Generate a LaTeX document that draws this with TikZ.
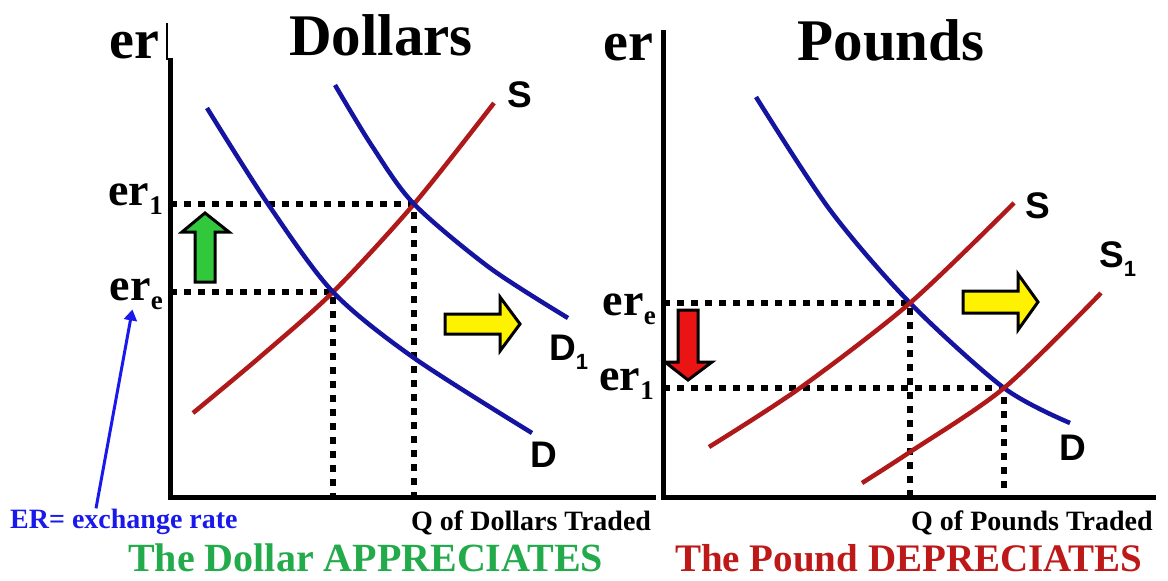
\documentclass[tikz,border=0pt]{standalone}
\usepackage{fontspec}
\setmainfont{Liberation Serif}
\newfontfamily\curvefont{Liberation Sans}
\usetikzlibrary{positioning, arrows.meta, calc}

\definecolor{demandblue}{RGB}{20,20,160}
\definecolor{supplyred}{RGB}{175,25,25}
\definecolor{erblue}{RGB}{25,25,235}
\definecolor{upgreen}{RGB}{50,200,60}
\definecolor{apprgreen}{RGB}{35,170,75}
\definecolor{deprred}{RGB}{190,25,25}
\definecolor{downred}{RGB}{235,20,20}

\newcommand{\ratesub}[1]{\raisebox{-9pt}{\fontsize{27}{27}\selectfont #1}}
\newcommand{\curvesub}[1]{\raisebox{-9pt}{\fontsize{22}{22}\selectfont #1}}

\begin{document}
\begin{tikzpicture}[x=1pt, y=-1pt,
	axis/.style={line width=5pt},
	guide/.style={line width=5.5pt, dash pattern=on 7pt off 7pt},
	demand/.style={line width=4.5pt, color=demandblue},
	supply/.style={line width=4.5pt, color=supplyred},
	blockarrow/.style={line width=3pt, draw=black, line join=miter},
	axislabel/.style={inner sep=0, anchor=base west, font=\bfseries\fontsize{56}{60}\selectfont},
	market/.style={inner sep=0, anchor=base, font=\bfseries\fontsize{59}{62}\selectfont},
	ratelabel/.style={inner sep=0, anchor=base east, font=\bfseries\fontsize{46}{50}\selectfont},
	curvelabel/.style={inner sep=0, anchor=base west, font=\curvefont\bfseries\fontsize{37}{40}\selectfont},
	qlabel/.style={inner sep=0, anchor=base west, font=\bfseries\fontsize{28}{30}\selectfont},
	verdict/.style={inner sep=0, anchor=base west, font=\bfseries\fontsize{40}{44}\selectfont}]
	\useasboundingbox (0,0) rectangle (1168,581);
	% ---- Dollars: demand shifts right ----
	\begin{scope}
	\coordinate (oD) at (170,497);
	\coordinate (eqD) at (333,292);
	\coordinate (newD) at (414,204);
	\foreach \p in {eqD, newD}{
		\draw[guide] (\p -| oD) -- (\p) -- (\p |- oD);
	}
	\draw[supply] plot[smooth] coordinates {(193,413) (260,357) (333,292) (414,204) (494,103)};
	\draw[demand] plot[smooth] coordinates {(207,108) (268,204) (333,292) (414,358) (532,433)};
	\draw[demand] plot[smooth] coordinates {(335,85) (372,146) (414,204) (490,268) (568,318)};
	\draw[line width=2pt] (167,23) -- (167,60);
	\draw[axis] (170,58) -- (oD) -- (656,497);
	\draw[blockarrow, fill=upgreen] (195,282) -- (195,232) -- (182,232) -- (205,213) -- (229,232) -- (215,232) -- (215,282) -- cycle;
	\draw[blockarrow, fill=yellow] (445,314) -- (500,314) -- (500,297) -- (520,324) -- (500,351) -- (500,334) -- (445,334) -- cycle;
	\node[axislabel] (erD) at (109,58) {er};
	\node[market] (dollars) at (381,55) {Dollars};
	\node[ratelabel] (er1D) at (163,205) {er\ratesub{1}};
	\node[ratelabel] (ereD) at (163,300) {er\ratesub{e}};
	\node[curvelabel] (sD) at (507,107) {S};
	\node[curvelabel] (d1D) at (549,360) {D\curvesub{1}};
	\node[curvelabel] (d0D) at (530,467) {D};
	\node[qlabel] (qD) at (411,530) {Q of Dollars Traded};
	\node[qlabel, erblue] (ertext) at (10,528) {ER= exchange rate};
	\draw[erblue, line width=3pt, -{Triangle[length=11pt, width=13pt]}] ($(ertext.north west)+(86,0)$) -- ([xshift=-4pt]ereD.south);
	\node[verdict, apprgreen] (apprD) at (128,571) {The Dollar APPRECIATES};
	\end{scope}
	% ---- Pounds: supply shifts right ----
	\begin{scope}
	\coordinate (oP) at (663,497);
	\coordinate (eqP) at (910,303);
	\coordinate (newP) at (1004,388);
	\foreach \p in {eqP, newP}{
		\draw[guide] (\p -| oP) -- (\p) -- (\p |- oP);
	}
	\draw[demand] plot[smooth] coordinates {(756,97) (830,210) (910,303) (1004,388) (1070,423)};
	\draw[supply] plot[smooth] coordinates {(709,447) (800,388) (910,303) (1014,203)};
	\draw[supply] plot[smooth] coordinates {(862,483) (910,452) (1004,388) (1101,293)};
	\draw[axis] (663,30) -- (oP) -- (1156,497);
	\draw[blockarrow, fill=downred] (678,310) -- (678,362) -- (665,362) -- (688,380) -- (712,362) -- (698,362) -- (698,310) -- cycle;
	\draw[blockarrow, fill=yellow] (963,291) -- (1018,291) -- (1018,274) -- (1038,302) -- (1018,330) -- (1018,313) -- (963,313) -- cycle;
	\node[axislabel] (erP) at (603,60) {er};
	\node[market] (pounds) at (891,60) {Pounds};
	\node[ratelabel] (ereP) at (656,315) {er\ratesub{e}};
	\node[ratelabel] (er1P) at (654,390) {er\ratesub{1}};
	\node[curvelabel] (sP) at (1025,218) {S};
	\node[curvelabel] (s1P) at (1099,267) {S\curvesub{1}};
	\node[curvelabel] (d0P) at (1059,460) {D};
	\node[qlabel] (qP) at (911,530) {Q of Pounds Traded};
	\node[verdict, deprred, font=\bfseries\fontsize{39}{42}\selectfont] (deprP) at (675,571) {The Pound DEPRECIATES};
	\end{scope}
\end{tikzpicture}
\end{document}
